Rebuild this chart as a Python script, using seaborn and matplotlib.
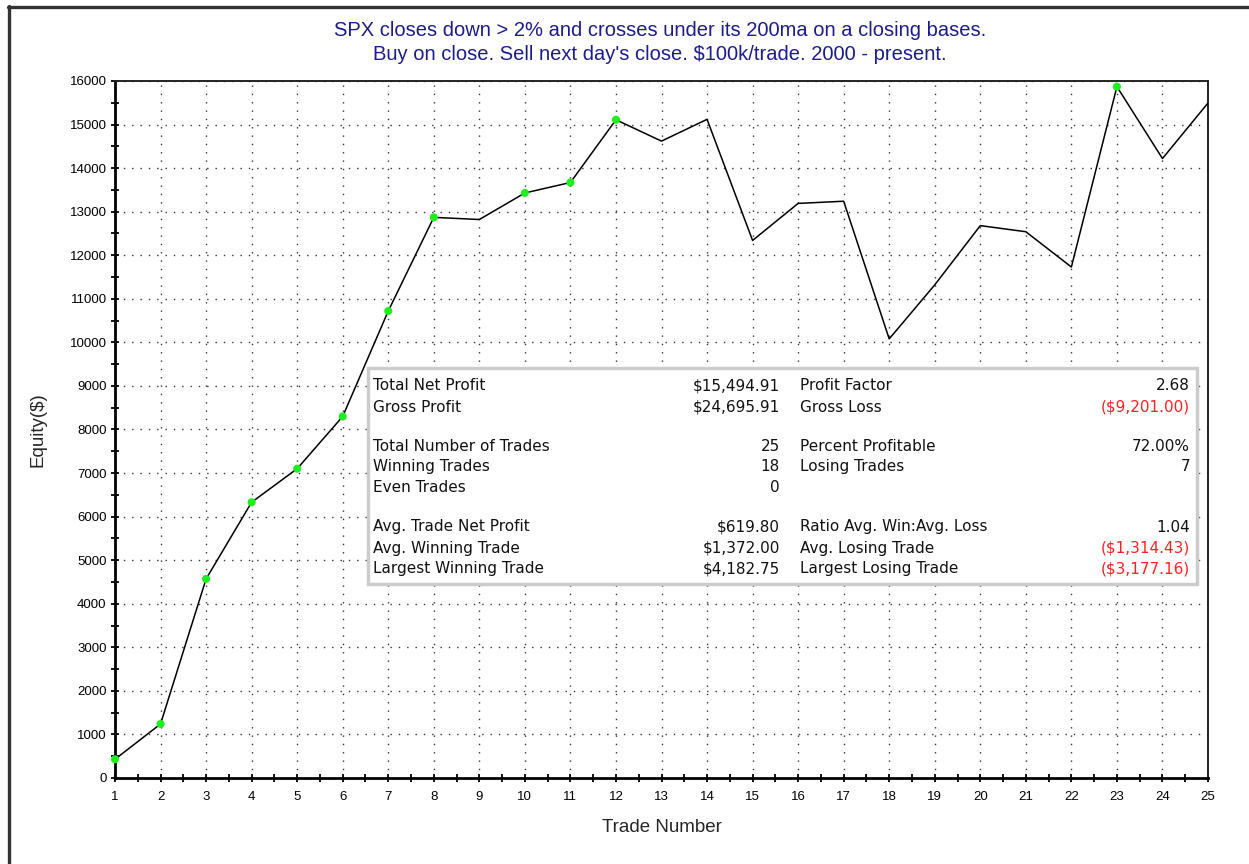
import numpy as np
import pandas as pd
import matplotlib
matplotlib.use("Agg")
import matplotlib.pyplot as plt
import seaborn as sns
from matplotlib.lines import Line2D
from matplotlib.patches import Rectangle
from matplotlib.ticker import MultipleLocator

# equity curve
trades = list(range(1, 26))
equity = [430, 1240, 4570, 6330, 7100, 8300, 10720, 12870, 12820, 13430,
          13670, 15110, 14620, 15120, 12340, 13190, 13240, 10080, 11320, 12680,
          12540, 11730, 15870, 14220, 15494.91]
# trades marked with a green dot (new equity highs)
dot_trades = [1, 2, 3, 4, 5, 6, 7, 8, 10, 11, 12, 23]

# stats table
left_labels = ["Total Net Profit", "Gross Profit", "Total Number of Trades", "Winning Trades",
               "Even Trades", "Avg. Trade Net Profit", "Avg. Winning Trade", "Largest Winning Trade"]
left_values = ["$15,494.91", "$24,695.91", "25", "18", "0", "$619.80", "$1,372.00", "$4,182.75"]
right_labels = ["Profit Factor", "Gross Loss", "Percent Profitable", "Losing Trades",
                "", "Ratio Avg. Win:Avg. Loss", "Avg. Losing Trade", "Largest Losing Trade"]
right_values = ["2.68", "($9,201.00)", "72.00%", "7", "", "1.04", "($1,314.43)", "($3,177.16)"]
right_red = [False, True, False, False, False, False, True, True]

title1 = "SPX closes down > 2% and crosses under its 200ma on a closing bases."
title2 = "Buy on close. Sell next day's close. $100k/trade. 2000 - present."

df = pd.DataFrame({"Trade": trades, "Equity": equity})
dots = df[df["Trade"].isin(dot_trades)]

sns.set_style("white")
plt.rcParams["font.family"] = ["Liberation Sans", "DejaVu Sans"]

W, H = 1249, 864
fig = plt.figure(figsize=(W / 100, H / 100), dpi=100)
ax = fig.add_axes([115 / W, 1 - 778 / H, (1208 - 115) / W, (778 - 81) / H])

sns.lineplot(data=df, x="Trade", y="Equity", color="black", lw=1.1, ax=ax, zorder=3)
sns.scatterplot(data=dots, x="Trade", y="Equity", color="#1eef1e", s=34, edgecolor="none",
                ax=ax, zorder=4, clip_on=False)

ax.set_xlim(1, 25)
ax.set_ylim(0, 16000)
ax.xaxis.set_major_locator(MultipleLocator(1))
ax.xaxis.set_minor_locator(MultipleLocator(0.5))
ax.yaxis.set_major_locator(MultipleLocator(1000))
ax.yaxis.set_minor_locator(MultipleLocator(500))
ax.grid(True, which="major", color="#333333", lw=1.0, linestyle=(0, (1, 5)))
ax.tick_params(which="both", bottom=True, left=True, direction="inout", length=6, width=1.3,
               colors="black", labelsize=9.5, pad=3)
ax.tick_params(axis="x", pad=6)
for s in ["left", "bottom"]:
    ax.spines[s].set_linewidth(2)
    ax.spines[s].set_color("black")
for s in ["top", "right"]:
    ax.spines[s].set_linewidth(1.4)
    ax.spines[s].set_color("#222222")

ax.set_xlabel("Trade Number", fontsize=13.5, labelpad=12)
ax.set_ylabel("Equity($)", fontsize=13.5, labelpad=17)

# stats box
def ax_x(px):
    return (px - 115) / (1208 - 115)

def ax_y(py):
    return (778 - py) / (778 - 81)

box = Rectangle((ax_x(368), ax_y(584)), ax_x(1197) - ax_x(368), ax_y(368) - ax_y(584),
                transform=ax.transAxes, facecolor="white", edgecolor="#cccccc", lw=2.5, zorder=5)
ax.add_patch(box)
row_y = [386, 407, 447, 467, 488, 527, 548, 569]
tfont = dict(fontsize=11, family="DejaVu Sans", va="center", transform=ax.transAxes, zorder=6)
for i, yy in enumerate(row_y):
    ax.text(ax_x(373), ax_y(yy), left_labels[i], ha="left", color="#111111", **tfont)
    ax.text(ax_x(780), ax_y(yy), left_values[i], ha="right", color="#111111", **tfont)
    ax.text(ax_x(800), ax_y(yy), right_labels[i], ha="left", color="#111111", **tfont)
    ax.text(ax_x(1190), ax_y(yy), right_values[i], ha="right",
            color="#ff2020" if right_red[i] else "#111111", **tfont)

fig.text(660 / W, 1 - 31 / H, title1, ha="center", va="center", fontsize=14.5, color="#1c1c8c")
fig.text(660 / W, 1 - 54 / H, title2, ha="center", va="center", fontsize=14.5, color="#1c1c8c")

# window frame
fig.add_artist(Line2D([8 / W, 1], [1 - 7 / H, 1 - 7 / H], color="#333333", lw=2.4))
fig.add_artist(Line2D([9 / W, 9 / W], [0, 1 - 6 / H], color="#333333", lw=2.4))

fig.savefig("out.png", dpi=100)
